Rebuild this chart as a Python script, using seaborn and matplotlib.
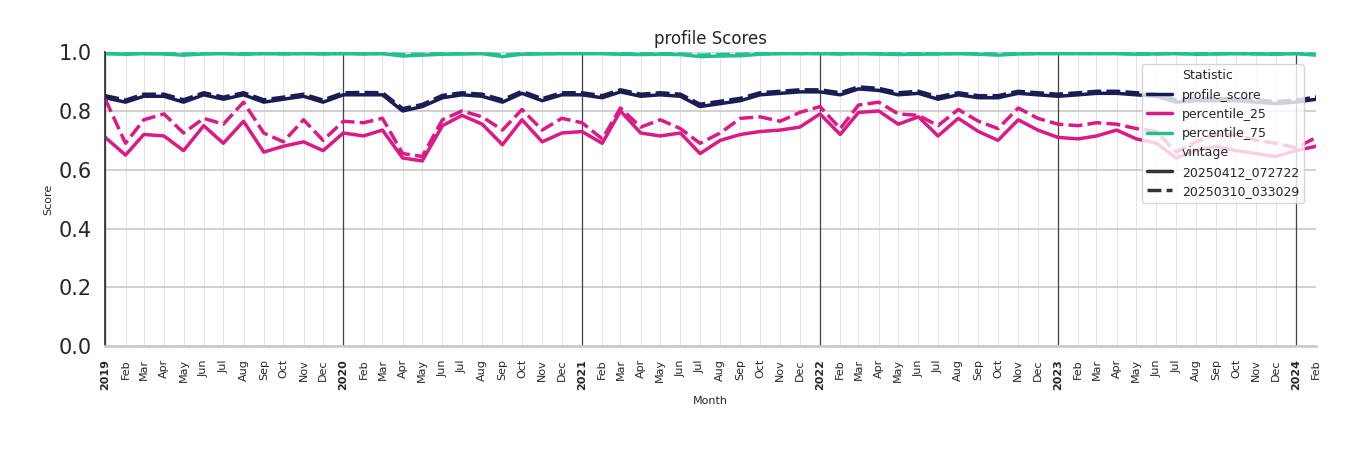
import pandas as pd
import numpy as np
import matplotlib.pyplot as plt
import seaborn as sns

months = pd.date_range("2019-01-01", "2024-02-01", freq="MS")

score_new = [0.845, 0.83, 0.85, 0.85, 0.83, 0.855, 0.84, 0.855, 0.83, 0.84, 0.85, 0.83,
             0.855, 0.855, 0.855, 0.80, 0.815, 0.845, 0.855, 0.85, 0.83, 0.86, 0.835, 0.855,
             0.855, 0.845, 0.865, 0.85, 0.855, 0.85, 0.815, 0.825, 0.835, 0.855, 0.86, 0.865,
             0.865, 0.855, 0.875, 0.87, 0.855, 0.86, 0.84, 0.855, 0.845, 0.845, 0.86, 0.855,
             0.85, 0.855, 0.86, 0.86, 0.855, 0.85, 0.83, 0.835, 0.835, 0.835, 0.83, 0.825,
             0.83, 0.84]
score_old = [0.852, 0.837, 0.857, 0.857, 0.838, 0.862, 0.847, 0.862, 0.838, 0.847, 0.857, 0.837,
             0.862, 0.863, 0.862, 0.808, 0.822, 0.853, 0.862, 0.857, 0.838, 0.867, 0.842, 0.862,
             0.862, 0.852, 0.872, 0.857, 0.862, 0.857, 0.823, 0.833, 0.843, 0.862, 0.867, 0.872,
             0.872, 0.862, 0.882, 0.877, 0.862, 0.867, 0.848, 0.862, 0.852, 0.852, 0.867, 0.862,
             0.857, 0.862, 0.867, 0.867, 0.862, 0.857, 0.838, 0.842, 0.842, 0.842, 0.837, 0.832,
             0.837, 0.847]
p25_new = [0.71, 0.65, 0.72, 0.715, 0.665, 0.75, 0.69, 0.765, 0.66, 0.68, 0.695, 0.665,
           0.725, 0.715, 0.735, 0.64, 0.63, 0.75, 0.785, 0.755, 0.685, 0.77, 0.695, 0.725,
           0.73, 0.69, 0.80, 0.725, 0.715, 0.725, 0.655, 0.70, 0.72, 0.73, 0.735, 0.745,
           0.79, 0.72, 0.795, 0.80, 0.755, 0.78, 0.715, 0.775, 0.73, 0.70, 0.77, 0.735,
           0.71, 0.705, 0.715, 0.735, 0.705, 0.69, 0.64, 0.665, 0.68, 0.665, 0.655, 0.645,
           0.665, 0.68]
p25_old = [0.84, 0.69, 0.77, 0.79, 0.725, 0.775, 0.755, 0.83, 0.725, 0.695, 0.77, 0.70,
           0.765, 0.76, 0.775, 0.655, 0.645, 0.77, 0.80, 0.78, 0.735, 0.805, 0.735, 0.775,
           0.76, 0.705, 0.81, 0.745, 0.77, 0.74, 0.69, 0.725, 0.775, 0.78, 0.765, 0.795,
           0.815, 0.74, 0.82, 0.83, 0.79, 0.785, 0.75, 0.805, 0.765, 0.74, 0.81, 0.775,
           0.755, 0.75, 0.76, 0.755, 0.74, 0.73, 0.66, 0.695, 0.72, 0.72, 0.70, 0.69,
           0.675, 0.71]
p75_new = [0.995, 0.993, 0.995, 0.994, 0.99, 0.994, 0.995, 0.993, 0.995, 0.994, 0.995, 0.994,
           0.995, 0.994, 0.995, 0.987, 0.99, 0.993, 0.994, 0.995, 0.985, 0.993, 0.994, 0.995,
           0.995, 0.995, 0.993, 0.992, 0.993, 0.992, 0.985, 0.987, 0.988, 0.993, 0.995, 0.995,
           0.995, 0.994, 0.995, 0.994, 0.992, 0.993, 0.994, 0.995, 0.993, 0.99, 0.994, 0.995,
           0.995, 0.995, 0.995, 0.995, 0.993, 0.994, 0.995, 0.993, 0.994, 0.995, 0.994, 0.993,
           0.995, 0.99]
p75_old = [0.996, 0.995, 0.996, 0.995, 0.993, 0.996, 0.996, 0.995, 0.996, 0.995, 0.996, 0.995,
           0.996, 0.995, 0.996, 0.992, 0.993, 0.995, 0.996, 0.996, 0.99, 0.995, 0.996, 0.996,
           0.996, 0.996, 0.995, 0.994, 0.995, 0.994, 0.99, 0.992, 0.993, 0.995, 0.996, 0.996,
           0.996, 0.995, 0.996, 0.995, 0.994, 0.995, 0.995, 0.996, 0.995, 0.993, 0.995, 0.996,
           0.996, 0.996, 0.996, 0.996, 0.995, 0.995, 0.996, 0.995, 0.995, 0.996, 0.995, 0.995,
           0.996, 0.993]

vintages = ["20250412_072722", "20250310_033029"]
series = {
    ("profile_score", vintages[0]): score_new, ("profile_score", vintages[1]): score_old,
    ("percentile_25", vintages[0]): p25_new, ("percentile_25", vintages[1]): p25_old,
    ("percentile_75", vintages[0]): p75_new, ("percentile_75", vintages[1]): p75_old,
}
rows = []
for (stat, vint), vals in series.items():
    for m, v in zip(months, vals):
        rows.append({"Month": m, "Score": v, "Statistic": stat, "vintage": vint})
df = pd.DataFrame(rows)

sns.set_theme(style="whitegrid")
fig = plt.figure(figsize=(13.5, 4.5), dpi=100)
ax = fig.add_axes([0.078, 0.231, 0.897, 0.653])

palette = {"profile_score": "#1c1c55", "percentile_25": "#dc1a86", "percentile_75": "#22c18c"}
sns.lineplot(data=df, x="Month", y="Score", hue="Statistic", style="vintage",
             hue_order=["profile_score", "percentile_25", "percentile_75"],
             style_order=vintages, palette=palette, linewidth=2.5, ax=ax)

ax.set_ylim(0, 1.0)
ax.set_xlim(months[0], months[-1])
ax.set_xticks(months)
labels = [str(m.year) if m.month == 1 else m.strftime("%b") for m in months]
ax.set_xticklabels(labels, rotation=90, fontsize=8)
for lab, m in zip(ax.get_xticklabels(), months):
    if m.month == 1:
        lab.set_fontweight("bold")
ax.tick_params(axis="y", labelsize=15)
ax.grid(axis="x", color="#e3e3e3", linewidth=0.8)
ax.grid(axis="y", color="#c8c8c8", linewidth=1.2)
for m in months:
    if m.month == 1:
        ax.axvline(m, color="#444444", linewidth=0.9, zorder=1)
for s in ["top", "right"]:
    ax.spines[s].set_visible(False)
ax.spines["left"].set_color("#333333")
ax.spines["bottom"].set_color("#cccccc")
ax.spines["bottom"].set_linewidth(2)

ax.set_title("profile Scores", fontsize=12)
ax.set_xlabel("Month", fontsize=8)
ax.set_ylabel("Score", fontsize=8)
leg = ax.legend(loc="upper right", fontsize=9, framealpha=0.8,
                bbox_to_anchor=(0.995, 0.98))

fig.savefig("out.png", dpi=100)
